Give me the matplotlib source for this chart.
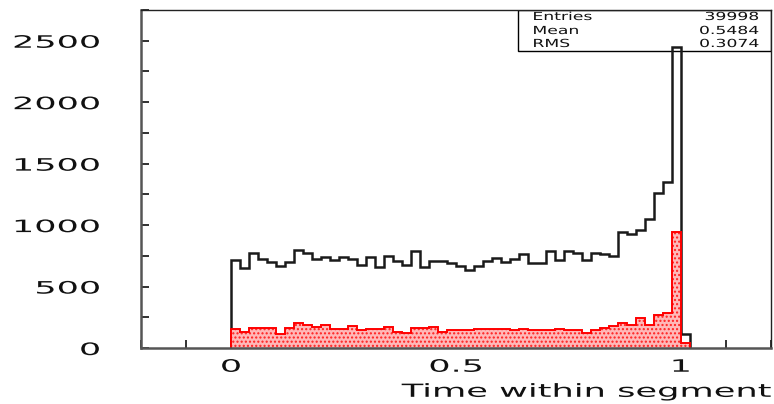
import numpy as np
import matplotlib
matplotlib.use("Agg")
import matplotlib.pyplot as plt
import matplotlib.patches as mpatches
from matplotlib.patheffects import AbstractPathEffect
from matplotlib.transforms import Affine2D
from matplotlib.ticker import MultipleLocator

# histogram binning: 51 bins of width 0.02 starting at 0
bin_width = 0.02
n_bins = 51
edges = np.arange(n_bins + 1) * bin_width

# all hits
counts_all = [720, 647, 769, 728, 696, 668, 696, 801, 769, 728, 741, 714, 741,
              728, 674, 741, 660, 750, 706, 674, 788, 655, 709, 709, 693,
              668, 633, 665, 709, 733, 696, 723, 761, 693, 693, 790, 720, 790,
              769, 720, 774, 761, 750, 944, 926, 958, 1047, 1261, 1350, 2448, 111]
# selected hits (red, hatched)
counts_sel = [152, 133, 165, 165, 160, 111, 160, 200, 187, 173, 187, 152, 152,
              179, 146, 152, 152, 173, 127, 124, 165, 160, 167, 133, 146,
              146, 146, 152, 152, 155, 152, 146, 152, 143, 143, 146, 152, 146,
              146, 124, 146, 160, 176, 203, 187, 241, 187, 268, 282, 945, 38]

stat_names = ["Entries", "Mean", "RMS"]
stat_values = ["39998", "0.5484", "0.3074"]

xlabel = "Time within segment"
xticks_major = [0, 0.5, 1]
xtick_labels = ["0", "0.5", "1"]
yticks_major = [0, 500, 1000, 1500, 2000, 2500]


class Stretch(AbstractPathEffect):
    """Draw text glyphs widened horizontally about one end or the middle."""

    def __init__(self, sx, anchor="center"):
        super().__init__()
        self.sx = sx
        self.anchor = anchor

    def draw_path(self, renderer, gc, tpath, affine, rgbFace=None):
        ext = tpath.get_extents()
        x0 = {"left": ext.x0, "center": 0.5 * (ext.x0 + ext.x1),
              "right": ext.x1}[self.anchor]
        pre = Affine2D().translate(-x0, 0).scale(self.sx, 1).translate(x0, 0)
        renderer.draw_path(gc, tpath, pre + affine, rgbFace)


plt.rcParams["font.family"] = ["DejaVu Sans"]
plt.rcParams["hatch.linewidth"] = 1.0

fig = plt.figure(figsize=(7.74, 4.04), dpi=100)
ax = fig.add_axes([141 / 774, 56 / 404, 630 / 774, 338 / 404])

# histograms sit below the axis layer so the tick marks show on top
ax.stairs(counts_all, edges, color="#1a1a1a", linewidth=1.8, baseline=0, zorder=2.0)
ax.stairs(counts_sel, edges, fill=True, facecolor="#ffb8b8", edgecolor="#ff2020",
          hatch="....", linewidth=0, baseline=0, zorder=2.1)
ax.stairs(counts_sel, edges, color="red", linewidth=1.4, baseline=0, zorder=2.2)

ax.set_xlim(-0.2, 1.2)
ax.set_ylim(0, 2750)

ax.xaxis.set_major_locator(plt.FixedLocator(xticks_major))
ax.xaxis.set_minor_locator(MultipleLocator(0.1))
ax.set_xticklabels(xtick_labels)
ax.yaxis.set_major_locator(plt.FixedLocator(yticks_major))
ax.yaxis.set_minor_locator(MultipleLocator(250))

ax.tick_params(axis="both", which="both", direction="in", color="#222222",
               width=1.3, top=False, right=False, labelcolor="#111111",
               labelsize=12.3)
ax.tick_params(axis="x", which="major", length=9, pad=7)
ax.tick_params(axis="x", which="minor", length=5.5)
ax.tick_params(axis="y", which="major", length=5.5, pad=29.5)
ax.tick_params(axis="y", which="minor", length=5.5)

for lbl in ax.get_xticklabels():
    lbl.set_path_effects([Stretch(2.05, "center")])
for lbl in ax.get_yticklabels():
    lbl.set_path_effects([Stretch(2.05, "right")])

for side in ("left", "bottom"):
    ax.spines[side].set_linewidth(1.8)
    ax.spines[side].set_color("#555555")
for side in ("top", "right"):
    ax.spines[side].set_linewidth(1.0)
    ax.spines[side].set_color("#222222")

ax.set_xlabel(xlabel, fontsize=13, color="#111111", ha="right",
              path_effects=[Stretch(1.95, "right")])
ax.xaxis.set_label_coords(1.0, -0.103)
ax.xaxis.label.set_va("top")

# statistics box in the upper right corner
box_x0 = (518 - 141) / 630
box_y0 = (348 - 51) / 338
ax.add_patch(mpatches.Rectangle((box_x0, box_y0), 1 - box_x0, 1 - box_y0,
                                transform=ax.transAxes, facecolor="white",
                                edgecolor="black", linewidth=1.0, zorder=1.5))
row_y = [(348 - 17) / 338, (348 - 31) / 338, (348 - 44) / 338]
for name, val, yy in zip(stat_names, stat_values, row_y):
    ax.text((533 - 141) / 630, yy, name, transform=ax.transAxes, fontsize=8,
            va="center", ha="left", color="#111111",
            path_effects=[Stretch(1.55, "left")])
    ax.text((759 - 141) / 630, yy, val, transform=ax.transAxes, fontsize=8,
            va="center", ha="right", color="#111111",
            path_effects=[Stretch(1.55, "right")])

fig.savefig("out.png", dpi=100)
